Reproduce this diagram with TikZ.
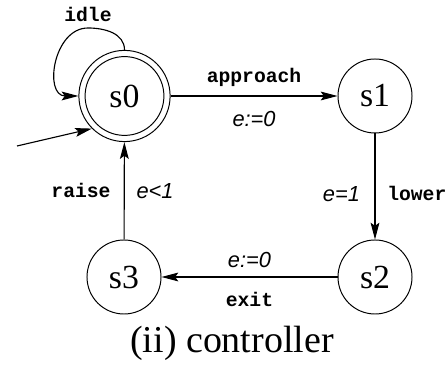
\documentclass[tikz,border=0pt]{standalone}
\usepackage{fontspec}
\setmainfont{Liberation Serif}
\newfontfamily\guardfont{Liberation Sans}
\newfontfamily\actionfont{Liberation Mono}
\usetikzlibrary{arrows.meta, positioning}

\begin{document}
\begin{tikzpicture}[
          x=0.025cm, y=0.025cm,
          state/.style={circle, draw, line width=0.7pt, minimum size=1.85cm, inner sep=0pt, font=\fontsize{24}{24}\selectfont},
          arrow/.style={-{Stealth[length=0.42cm, width=0.22cm, inset=0.08cm]}, line width=0.8pt},
          guard/.style={font=\guardfont\itshape\fontsize{15.5}{16}\selectfont},
          action/.style={font=\actionfont\bfseries\fontsize{14}{14}\selectfont}
        ]
          \useasboundingbox (0,0) rectangle (447,367);

          % States
          \node[state, minimum size=2.28cm] (s0) at (124.5,271) {};
          \node[state, minimum size=1.97cm] (s0in) at (124.5,271) {s0};
          \node[state] (s1) at (375,271) {s1};
          \node[state] (s2) at (375,90) {s2};
          \node[state] (s3) at (124,90) {s3};
          \coordinate (init) at (17,221);
          \coordinate (idletop) at (88,339);

          % Caption
          \node[font=\fontsize{27}{27}\selectfont] (caption) at (232,24) {(ii) controller};

          % Transitions
          \draw[arrow] (init) -- (s0.225);
          \draw[arrow] (s0.north) to[out=90, in=0] (idletop) to[out=180, in=180, looseness=1.3] (s0.west);
          \node[action, above=1pt of idletop] (idle) {idle};

          \draw[arrow] (s0) -- node[action, above=3pt] {approach} node[guard, below=7pt] {e:=0} (s1);
          \draw[arrow] (s1) -- node[guard, left=7pt, pos=0.57] {e=1} node[action, right=5pt, pos=0.57] {lower} (s2);
          \draw[arrow] (s2) -- node[guard, above=3pt] {e:=0} node[action, below=7pt] {exit} (s3);
          \draw[arrow] (s3) -- node[action, left=6pt] {raise} node[guard, right=5pt] {e<1} (s0);
        \end{tikzpicture}
\end{document}
